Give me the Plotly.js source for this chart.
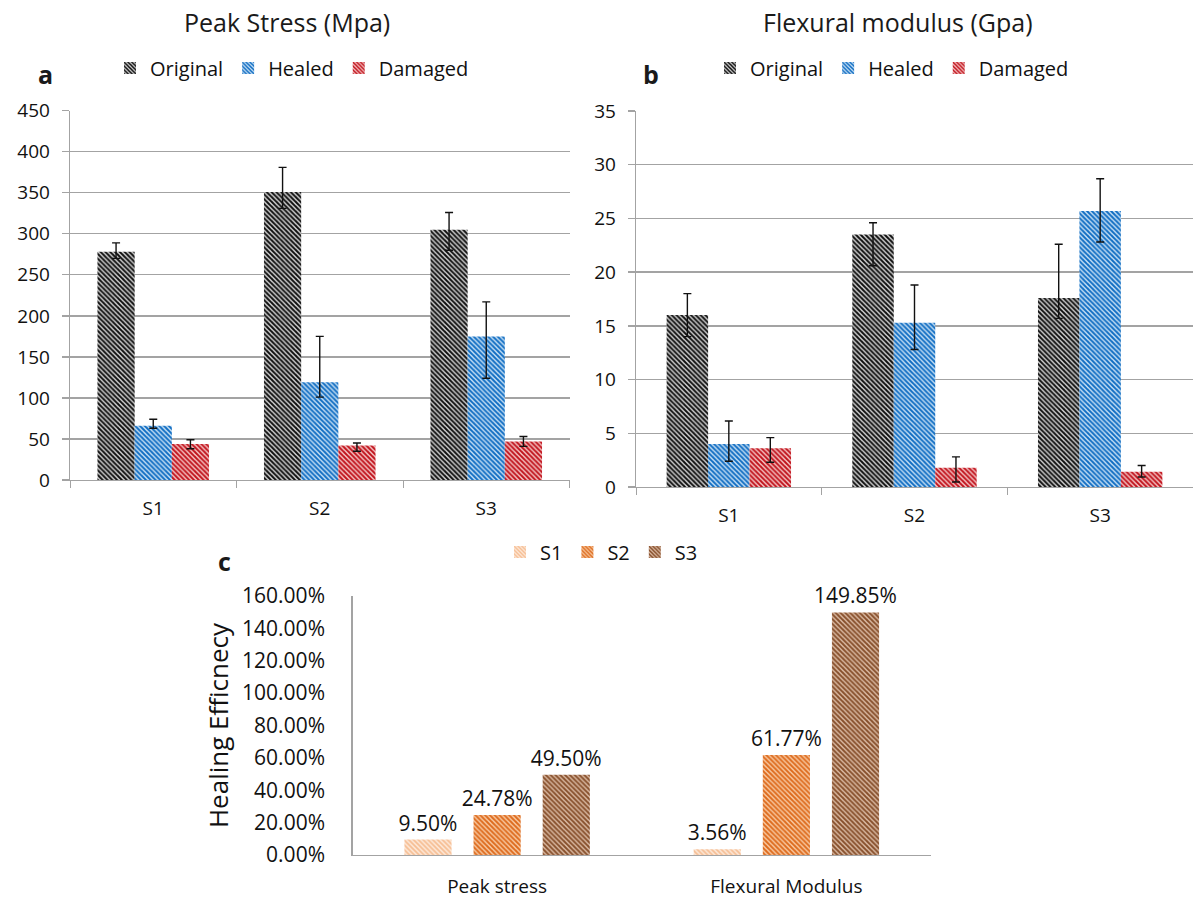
<!DOCTYPE html>
<html>
<head>
<meta charset="utf-8">
<script src="https://cdn.plot.ly/plotly-3.0.1.min.js"></script>
<style>
  html, body { margin: 0; padding: 0; background: #fff; }
  #chart { width: 1193px; height: 899px; }
</style>
</head>
<body>
<div id="chart"></div>
<script>
// Sample groups
const samples = ['S1', 'S2', 'S3'];

// Panel a: peak stress (MPa)
const stressOriginal = [278, 351, 305];
const stressOriginalUp = [11, 30, 21];
const stressOriginalDown = [8, 20, 25];
const stressHealed = [66, 119, 175];
const stressHealedUp = [8, 56, 42];
const stressHealedDown = [3, 18, 51];
const stressDamaged = [44, 42, 47];
const stressDamagedUp = [5, 3, 6];
const stressDamagedDown = [6, 7, 6];

// Panel b: flexural modulus (GPa)
const modulusOriginal = [16.0, 23.5, 17.6];
const modulusOriginalUp = [2.0, 1.1, 5.0];
const modulusOriginalDown = [2.0, 2.9, 1.9];
const modulusHealed = [4.0, 15.3, 25.7];
const modulusHealedUp = [2.15, 3.5, 3.0];
const modulusHealedDown = [1.6, 2.5, 2.9];
const modulusDamaged = [3.6, 1.8, 1.43];
const modulusDamagedUp = [1.0, 1.0, 0.57];
const modulusDamagedDown = [1.3, 1.33, 0.5];

// Panel c: healing efficiency (%)
const efficiencyGroups = ['Peak stress', 'Flexural Modulus'];
const efficiencyS1 = [9.50, 3.56];
const efficiencyS2 = [24.78, 61.77];
const efficiencyS3 = [49.50, 149.85];

const FONT = 'Open Sans, Noto Sans, sans-serif';
const W = 1193, H = 899;
const px = v => v / W;          // horizontal pixel -> paper
const py = v => 1 - v / H;      // vertical pixel -> paper

function hatch(fg, bg, solidity) {
  return { shape: '\\', fgcolor: fg, bgcolor: bg, size: 3.4, solidity: solidity, fillmode: 'replace' };
}
const STYLE = {
  Original: hatch('#0d0d0d', '#cfcfcf', 0.55),
  Healed: hatch('#0f6cc2', '#c4def4', 0.55),
  Damaged: hatch('#c0101a', '#f4c2c2', 0.55),
  S1: hatch('#f6bd92', '#fde7d6', 0.5),
  S2: hatch('#dd6a1c', '#f8c8a0', 0.55),
  S3: hatch('#864e2a', '#dab9a2', 0.55)
};

function errBar(up, down) {
  return { type: 'data', symmetric: false, array: up, arrayminus: down,
           color: '#111', thickness: 1.4, width: 4 };
}

function groupTrace(name, y, up, down, xa, ya, legend) {
  return {
    type: 'bar', name: name, x: samples, y: y,
    xaxis: xa, yaxis: ya, legend: legend,
    marker: { color: STYLE[name].bgcolor, pattern: STYLE[name], line: { width: 0 } },
    error_y: errBar(up, down),
    hoverinfo: 'x+y+name'
  };
}

// Panel c bars: fixed width with a gap between neighbours in each group
const EFF_WIDTH = 0.163, EFF_STEP = 0.239;
function effTrace(name, y, slot) {
  return {
    type: 'bar', name: name, x: efficiencyGroups, y: y,
    xaxis: 'x3', yaxis: 'y3', legend: 'legend3',
    width: EFF_WIDTH, offset: slot * EFF_STEP - EFF_WIDTH / 2,
    marker: { color: STYLE[name].bgcolor, pattern: STYLE[name], line: { width: 0 } },
    text: y.map(v => v.toFixed(2) + '%'),
    textposition: 'outside', cliponaxis: false, constraintext: 'none',
    textfont: { family: FONT, size: 21, color: '#111' },
    hoverinfo: 'x+y+name'
  };
}

const traces = [
  groupTrace('Original', stressOriginal, stressOriginalUp, stressOriginalDown, 'x', 'y', 'legend'),
  groupTrace('Healed', stressHealed, stressHealedUp, stressHealedDown, 'x', 'y', 'legend'),
  groupTrace('Damaged', stressDamaged, stressDamagedUp, stressDamagedDown, 'x', 'y', 'legend'),
  groupTrace('Original', modulusOriginal, modulusOriginalUp, modulusOriginalDown, 'x2', 'y2', 'legend2'),
  groupTrace('Healed', modulusHealed, modulusHealedUp, modulusHealedDown, 'x2', 'y2', 'legend2'),
  groupTrace('Damaged', modulusDamaged, modulusDamagedUp, modulusDamagedDown, 'x2', 'y2', 'legend2'),
  effTrace('S1', efficiencyS1, -1),
  effTrace('S2', efficiencyS2, 0),
  effTrace('S3', efficiencyS3, 1)
];

const GRID = '#a3a3a3';
const tickFont = { family: FONT, size: 19, color: '#111' };

function catAxis(domain, anchor) {
  return {
    domain: domain, anchor: anchor, type: 'category',
    showline: true, linecolor: GRID, linewidth: 1.3,
    ticks: 'outside', tickson: 'boundaries', ticklen: 7, tickcolor: GRID, tickwidth: 1,
    ticklabelstandoff: 11,
    tickfont: tickFont, showgrid: false, zeroline: false, fixedrange: true
  };
}
function valAxis(domain, anchor, range, dtick) {
  return {
    domain: domain, anchor: anchor, range: range, dtick: dtick,
    showline: true, linecolor: GRID, linewidth: 1.3,
    ticks: 'outside', ticklen: 7, tickcolor: GRID, tickwidth: 1.3,
    ticklabelstandoff: 8,
    showgrid: true, gridcolor: GRID, gridwidth: 1.3, zeroline: false,
    tickfont: tickFont, fixedrange: true
  };
}

const legendBase = {
  orientation: 'h', xanchor: 'left', yanchor: 'middle',
  font: { family: FONT, size: 20, color: '#111' },
  itemwidth: 30, tracegroupgap: 0, bgcolor: 'rgba(0,0,0,0)', itemclick: false, itemdoubleclick: false
};

function label(text, x, y, size) {
  return { text: text, x: px(x), y: py(y), xref: 'paper', yref: 'paper',
           xanchor: 'center', yanchor: 'middle', showarrow: false,
           font: { family: FONT, size: size, color: '#1a1a1a' } };
}

const layout = {
  width: W, height: H,
  margin: { l: 0, r: 0, t: 0, b: 0 },
  paper_bgcolor: '#fff', plot_bgcolor: '#fff',
  barmode: 'group', bargap: 0.33, bargroupgap: 0,
  font: { family: FONT, color: '#111' },
  xaxis: catAxis([px(70), px(569.5)], 'y'),
  yaxis: valAxis([py(480), py(110.7)], 'x', [0, 450], 50),
  xaxis2: catAxis([px(636), 1], 'y2'),
  yaxis2: valAxis([py(487), py(111)], 'x2', [0, 35], 5),
  xaxis3: {
    domain: [px(352.5), px(931)], anchor: 'y3', type: 'category',
    showline: true, linecolor: GRID, linewidth: 1.3, ticks: '', showgrid: false, zeroline: false,
    ticklabelstandoff: 14,
    tickfont: { family: FONT, size: 19, color: '#111' }, fixedrange: true
  },
  yaxis3: {
    domain: [py(855), py(596)], anchor: 'x3', range: [0, 160], dtick: 20,
    tickformat: '.2f', ticksuffix: '%',
    showline: true, linecolor: GRID, linewidth: 1.3, ticks: '', showgrid: false, zeroline: false,
    ticklabelstandoff: 22,
    tickfont: { family: FONT, size: 21, color: '#111' },
    title: { text: 'Healing Efficnecy', font: { family: FONT, size: 26, color: '#111' }, standoff: 6 },
    fixedrange: true
  },
  legend: Object.assign({}, legendBase, { x: px(110), y: py(68) }),
  legend2: Object.assign({}, legendBase, { x: px(710), y: py(68) }),
  legend3: Object.assign({}, legendBase, { x: px(500), y: py(552) }),
  annotations: [
    label('Peak Stress (Mpa)', 287, 22, 25),
    label('Flexural modulus (Gpa)', 898, 22, 25),
    label('<b>a</b>', 45, 74, 25),
    label('<b>b</b>', 651, 74, 25),
    label('<b>c</b>', 224, 561, 25)
  ]
};

Plotly.newPlot('chart', traces, layout, { staticPlot: true, displayModeBar: false });
</script>
</body>
</html>
